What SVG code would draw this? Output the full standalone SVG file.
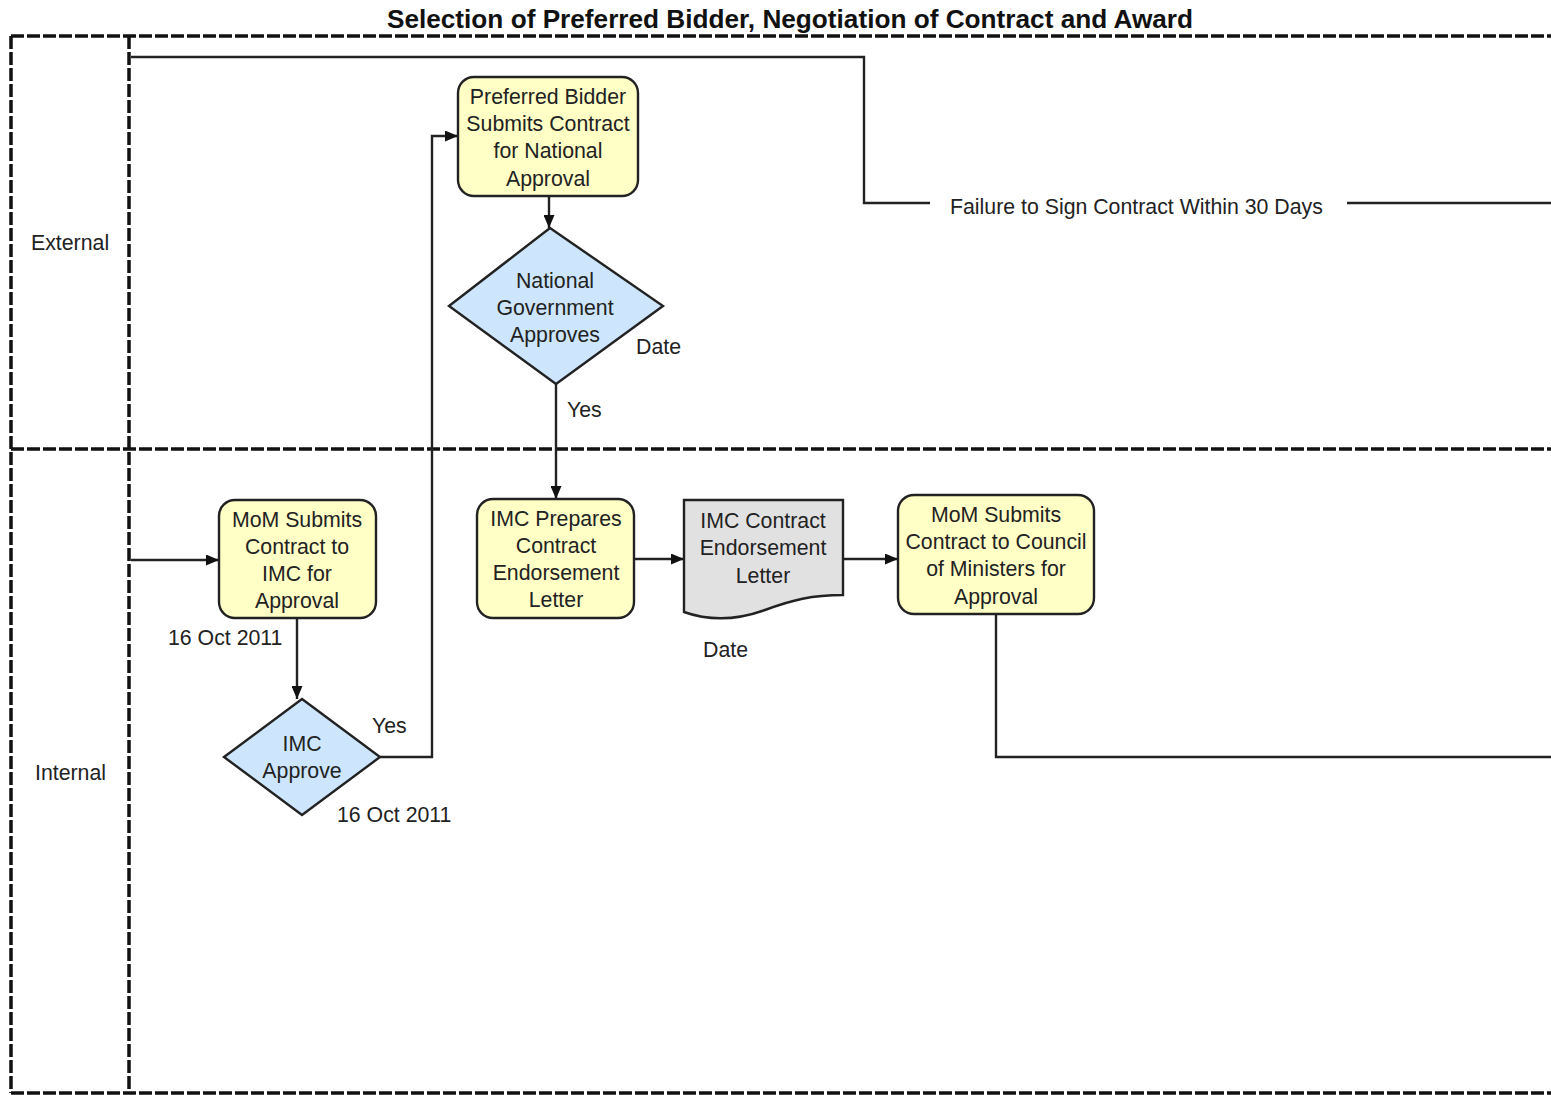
<svg xmlns="http://www.w3.org/2000/svg" width="1551" height="1095" viewBox="0 0 1551 1095">
  <defs>
    <marker id="arrow" viewBox="0 0 13 11" refX="13" refY="5.5" markerWidth="13" markerHeight="11" markerUnits="userSpaceOnUse" orient="auto">
      <path d="M0,0 L13,5.5 L0,11 z" fill="#111"/>
    </marker>
    <style>
      .lane { fill: none; stroke: #111; stroke-width: 3.5; stroke-dasharray: 13 3; }
      .proc { fill: #ffffc6; stroke: #222; stroke-width: 2.4; }
      .dec { fill: #cde6fd; stroke: #222; stroke-width: 2.4; }
      .doc { fill: #e1e1e1; stroke: #222; stroke-width: 2.4; }
      .conn { fill: none; stroke: #222; stroke-width: 2.4; }
      .arr { marker-end: url(#arrow); }
      text { font-family: "Liberation Sans", Arial, sans-serif; font-size: 21.3px; fill: #222; }
      .c { text-anchor: middle; }
      .title { font-size: 26.2px; font-weight: bold; fill: #111; }
    </style>
  </defs>
  <rect width="1551" height="1095" fill="#fff"/>

  <!-- Title -->
  <text class="title c" x="790" y="28">Selection of Preferred Bidder, Negotiation of Contract and Award</text>

  <!-- Swimlanes -->
  <g id="lanes">
    <line class="lane" x1="11" y1="36" x2="1551" y2="36"/>
    <line class="lane" x1="11" y1="449" x2="1551" y2="449"/>
    <line class="lane" x1="11" y1="1093" x2="1551" y2="1093"/>
    <line class="lane" x1="11" y1="36" x2="11" y2="1093"/>
    <line class="lane" x1="129" y1="36" x2="129" y2="1093"/>
    <text x="31" y="250">External</text>
    <text x="35" y="780">Internal</text>
  </g>

  <!-- Connectors -->
  <g id="connectors">
    <polyline class="conn" points="131,57 864,57 864,203 930,203"/>
    <line class="conn" x1="1347" y1="203" x2="1551" y2="203"/>
    <text x="950" y="214">Failure to Sign Contract Within 30 Days</text>

    <line class="conn arr" x1="131" y1="560" x2="219" y2="560"/>
    <line class="conn arr" x1="297" y1="619" x2="297" y2="699"/>
    <polyline class="conn arr" points="380,757 432,757 432,136 458,136"/>
    <text x="372" y="733">Yes</text>
    <line class="conn arr" x1="549" y1="197" x2="549" y2="228"/>
    <line class="conn arr" x1="556" y1="384" x2="556" y2="499"/>
    <text x="567" y="417">Yes</text>
    <line class="conn arr" x1="634" y1="559" x2="684" y2="559"/>
    <line class="conn arr" x1="843" y1="559" x2="898" y2="559"/>
    <polyline class="conn" points="996,615 996,757 1551,757"/>
  </g>

  <!-- External lane nodes -->
  <g id="preferred-bidder-submits">
    <rect class="proc" x="458" y="77" width="180" height="119" rx="16"/>
    <text class="c" x="548" y="104">Preferred Bidder</text>
    <text class="c" x="548" y="131">Submits Contract</text>
    <text class="c" x="548" y="158">for National</text>
    <text class="c" x="548" y="186">Approval</text>
  </g>

  <g id="national-government-approves">
    <polygon class="dec" points="550,228 663,306 556,384 449,306"/>
    <text class="c" x="555" y="288">National</text>
    <text class="c" x="555" y="315">Government</text>
    <text class="c" x="555" y="342">Approves</text>
    <text x="636" y="354">Date</text>
  </g>

  <!-- Internal lane nodes -->
  <g id="mom-submits-to-imc">
    <rect class="proc" x="219" y="500" width="157" height="118" rx="16"/>
    <text class="c" x="297" y="527">MoM Submits</text>
    <text class="c" x="297" y="554">Contract to</text>
    <text class="c" x="297" y="581">IMC for</text>
    <text class="c" x="297" y="608">Approval</text>
    <text x="168" y="645">16 Oct 2011</text>
  </g>

  <g id="imc-approve">
    <polygon class="dec" points="302,699 380,757 302,815 224,757"/>
    <text class="c" x="302" y="751">IMC</text>
    <text class="c" x="302" y="778">Approve</text>
    <text x="337" y="822">16 Oct 2011</text>
  </g>

  <g id="imc-prepares-letter">
    <rect class="proc" x="477" y="499" width="157" height="119" rx="16"/>
    <text class="c" x="556" y="526">IMC Prepares</text>
    <text class="c" x="556" y="553">Contract</text>
    <text class="c" x="556" y="580">Endorsement</text>
    <text class="c" x="556" y="607">Letter</text>
  </g>

  <g id="imc-endorsement-letter">
    <path class="doc" d="M684,500 H843 V595 C812,595 792,600 765,610 C740,619 712,622 684,612 Z"/>
    <text class="c" x="763" y="528">IMC Contract</text>
    <text class="c" x="763" y="555">Endorsement</text>
    <text class="c" x="763" y="583">Letter</text>
    <text x="703" y="657">Date</text>
  </g>

  <g id="mom-submits-to-council">
    <rect class="proc" x="898" y="495" width="196" height="119" rx="16"/>
    <text class="c" x="996" y="522">MoM Submits</text>
    <text class="c" x="996" y="549">Contract to Council</text>
    <text class="c" x="996" y="576">of Ministers for</text>
    <text class="c" x="996" y="604">Approval</text>
  </g>
</svg>
